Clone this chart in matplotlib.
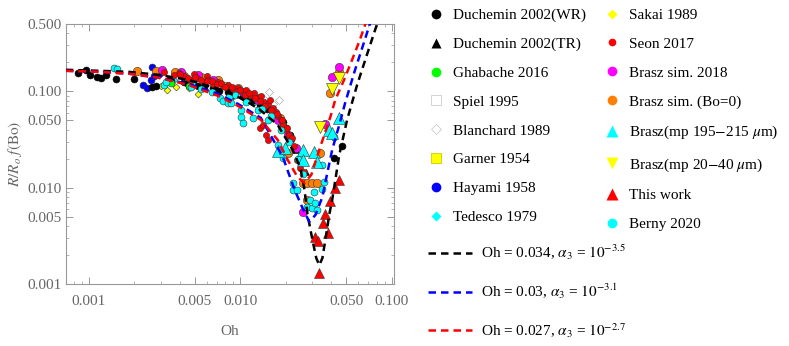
import matplotlib
matplotlib.use("Agg")
import matplotlib.pyplot as plt
from matplotlib.lines import Line2D
from matplotlib.ticker import FixedLocator, NullFormatter, LogLocator

plt.rcParams['font.family'] = ['Liberation Serif', 'DejaVu Serif']
plt.rcParams['mathtext.fontset'] = 'stix'

# Model curves
black_x = [0.000708, 0.00118, 0.00185, 0.00291, 0.00457, 0.00718, 0.0097, 0.0131, 0.0177, 0.0222,
           0.0250, 0.0266, 0.0278, 0.0300, 0.0318, 0.0333, 0.0349, 0.0365, 0.0388, 0.0405,
           0.0451, 0.0508, 0.0591, 0.0687, 0.0786, 0.0822]
black_y = [0.167, 0.163, 0.159, 0.148, 0.131, 0.106, 0.0872, 0.0671, 0.0448, 0.0247,
           0.0160, 0.00946, 0.00534, 0.00287, 0.00186, 0.00157, 0.00186, 0.00287, 0.00534, 0.00746,
           0.0219, 0.0505, 0.116, 0.240, 0.456, 0.56]
blue_x = [0.000708, 0.00118, 0.00185, 0.00291, 0.00457, 0.00718, 0.0097, 0.0137, 0.0191, 0.0229,
          0.0258, 0.0286, 0.0314, 0.0349, 0.0376, 0.0405, 0.0451, 0.0493, 0.0565, 0.0655, 0.0718, 0.074]
blue_y = [0.163, 0.159, 0.152, 0.138, 0.119, 0.0937, 0.0738, 0.0529, 0.0209, 0.00946,
          0.00616, 0.00442, 0.00521, 0.00801, 0.0142, 0.0247, 0.0448, 0.0756, 0.155, 0.318, 0.500, 0.58]
red_x = [0.000708, 0.00118, 0.00185, 0.00291, 0.00457, 0.00718, 0.0097, 0.0137, 0.0177, 0.0206,
         0.0239, 0.0266, 0.0295, 0.0333, 0.0394, 0.0424, 0.0485, 0.0548, 0.0617, 0.0671, 0.069]
red_y = [0.163, 0.159, 0.152, 0.138, 0.116, 0.0893, 0.0704, 0.0505, 0.0313, 0.0194,
         0.0129, 0.0112, 0.0136, 0.0247, 0.0542, 0.0812, 0.131, 0.212, 0.342, 0.500, 0.56]

# Experimental / simulation data
duchemin_wr_x = [0.000847, 0.000956, 0.00102, 0.00113, 0.0012, 0.00131, 0.00152, 0.002, 0.00262, 0.00278,
                 0.00338, 0.00424, 0.00531, 0.00665, 0.00835, 0.0105, 0.0122, 0.0141, 0.0164, 0.0191,
                 0.0212, 0.0418, 0.0471, 0.0035, 0.0045, 0.0058, 0.0072, 0.009, 0.011, 0.0135,
                 0.015, 0.018, 0.020]
duchemin_wr_y = [0.155, 0.167, 0.148, 0.141, 0.138, 0.148, 0.134, 0.134, 0.111, 0.113,
                 0.131, 0.125, 0.113, 0.108, 0.0983, 0.0893, 0.0812, 0.0721, 0.061, 0.0481,
                 0.0353, 0.0204, 0.0272, 0.128, 0.120, 0.110, 0.101, 0.092, 0.083, 0.072,
                 0.066, 0.052, 0.042]
duchemin_tr_x = [0.0232, 0.0250, 0.0270]
duchemin_tr_y = [0.0247, 0.0194, 0.0146]
ghabache_x = [0.00348, 0.00457, 0.0166, 0.0191]
ghabache_y = [0.122, 0.113, 0.0596, 0.0448]
spiel_x = [0.0113, 0.0127]
spiel_y = [0.0812, 0.0738]
blanchard_x = [0.0154, 0.0143, 0.0180, 0.0166]
blanchard_y = [0.0983, 0.0832, 0.0812, 0.0738]
garner_x = [0.00809, 0.00874]
garner_y = [0.116, 0.108]
hayami_x = [0.00229, 0.00243, 0.00258, 0.0027, 0.00262, 0.00291]
hayami_y = [0.116, 0.108, 0.131, 0.144, 0.179, 0.152]
tedesco_x = [0.00365, 0.00494, 0.00665, 0.009, 0.0122]
tedesco_y = [0.131, 0.116, 0.103, 0.0893, 0.0756]
sakai_x = [0.003, 0.00328, 0.00376, 0.00457, 0.00531, 0.00665, 0.00809]
sakai_y = [0.113, 0.103, 0.111, 0.108, 0.0937, 0.103, 0.111]
seon_x = [0.00314, 0.00393, 0.00494, 0.006, 0.00365, 0.00424, 0.00471, 0.00517, 0.00574, 0.00618,
          0.00665, 0.00718, 0.00773, 0.00835, 0.009, 0.0097, 0.0105, 0.0109, 0.0117, 0.0123,
          0.0131, 0.0137, 0.0143, 0.0152, 0.0157, 0.0164, 0.0172, 0.0177, 0.0186, 0.0191,
          0.02, 0.0209, 0.0215, 0.0225, 0.0135, 0.0141, 0.0148, 0.0152, 0.0239, 0.025, 0.0262,
          0.0040, 0.0045, 0.0050, 0.0055, 0.0060, 0.0065, 0.0070, 0.0075, 0.0080, 0.0088,
          0.0095, 0.0100, 0.0108, 0.0115, 0.0125, 0.0135, 0.0145, 0.016, 0.0175, 0.019,
          0.0205, 0.022]
seon_y = [0.159, 0.155, 0.152, 0.144, 0.148, 0.144, 0.131, 0.138, 0.125, 0.131,
          0.119, 0.125, 0.113, 0.116, 0.106, 0.108, 0.0983, 0.103, 0.0915, 0.096,
          0.0852, 0.0893, 0.0774, 0.0738, 0.0812, 0.0671, 0.061, 0.0555, 0.0505, 0.0448,
          0.0397, 0.0353, 0.0313, 0.0272, 0.0417, 0.0448, 0.0353, 0.0313, 0.0194, 0.016, 0.0146,
          0.150, 0.138, 0.142, 0.130, 0.127, 0.128, 0.118, 0.121, 0.110, 0.112,
          0.100, 0.104, 0.092, 0.095, 0.086, 0.080, 0.071, 0.064, 0.058, 0.050,
          0.042, 0.033]
brasz_sim_x = [0.00305, 0.00405, 0.00531, 0.00665, 0.0105, 0.0131, 0.0177, 0.0206, 0.0232, 0.0258,
               0.0365, 0.0405, 0.0451]
brasz_sim_y = [0.167, 0.159, 0.148, 0.131, 0.0983, 0.0812, 0.0505, 0.0353, 0.0259, 0.0056,
               0.0459, 0.141, 0.179]
brasz_bo0_x = [0.00209, 0.00278, 0.0037, 0.00424, 0.00556, 0.00718, 0.0097, 0.0131, 0.0183, 0.0206,
               0.0258, 0.0278, 0.03, 0.0323, 0.0338, 0.0278, 0.0394, 0.0451]
brasz_bo0_y = [0.163, 0.163, 0.159, 0.144, 0.141, 0.131, 0.108, 0.0852, 0.0529, 0.023,
               0.0112, 0.0112, 0.0112, 0.0112, 0.023, 0.00746, 0.096, 0.159]
brasz_mp195_x = [0.0177, 0.0197, 0.0258, 0.0309, 0.0258, 0.0323, 0.0388, 0.0405, 0.0451]
brasz_mp195_y = [0.0241, 0.0259, 0.0247, 0.0235, 0.0194, 0.0185, 0.0397, 0.037, 0.0529]
brasz_mp20_x = [0.0451, 0.0405, 0.0338]
brasz_mp20_y = [0.138, 0.106, 0.0427]
this_work_x = [0.0451, 0.0424, 0.0394, 0.0365, 0.0354, 0.0382, 0.0314, 0.0328, 0.0333]
this_work_y = [0.012, 0.0099, 0.00728, 0.00534, 0.00431, 0.00339, 0.00307, 0.0028, 0.0013]
berny_x = [0.00148, 0.00155, 0.00314, 0.00323, 0.00471, 0.0074, 0.00773, 0.00835, 0.00874, 0.00928,
           0.0102, 0.0102, 0.0105, 0.0122, 0.0191, 0.0222, 0.0222, 0.0239, 0.0278, 0.029,
           0.03, 0.0314, 0.0323, 0.0349, 0.0349, 0.0359, 0.0309, 0.0177, 0.0152, 0.0131, 0.0418,
           0.0055, 0.0065, 0.0085, 0.011, 0.014, 0.016, 0.0185, 0.021, 0.024, 0.026]
berny_y = [0.175, 0.171, 0.116, 0.125, 0.111, 0.0852, 0.0793, 0.0756, 0.0756, 0.0915,
           0.064, 0.0542, 0.047, 0.0529, 0.0204, 0.0112, 0.00946, 0.00946, 0.00631, 0.00746,
           0.00616, 0.00694, 0.00587, 0.0097, 0.0172, 0.0115, 0.00902, 0.0278, 0.0505, 0.064, 0.0336,
           0.105, 0.098, 0.088, 0.078, 0.065, 0.056, 0.040, 0.030, 0.020, 0.014]

tick_vals = [0.001, 0.005, 0.010, 0.050, 0.100, 0.500]
tick_labels = ['0.001', '0.005', '0.010', '0.050', '0.100', '0.500']

grey = '#666666'
edge = '#333333'

fig = plt.figure(figsize=(7.89, 3.46), dpi=100)
ax = fig.add_axes([0.0837, 0.179, 0.416, 0.752])

# (x, y, marker, face, edge, size)
series = [
    (spiel_x, spiel_y, 's', 'white', '#aaaaaa', 5),
    (blanchard_x, blanchard_y, 'D', 'white', '#999999', 4),
    (garner_x, garner_y, 's', '#ffff00', edge, 5),
    (hayami_x, hayami_y, 'o', '#0000ff', edge, 5),
    (tedesco_x, tedesco_y, 'D', '#00ffff', edge, 3.5),
    (sakai_x, sakai_y, 'D', '#ffff00', edge, 3.5),
    (duchemin_wr_x, duchemin_wr_y, 'o', 'black', 'black', 5),
    (duchemin_tr_x, duchemin_tr_y, '^', 'black', 'black', 5),
    (ghabache_x, ghabache_y, 'o', '#00ff00', edge, 5),
    (brasz_bo0_x, brasz_bo0_y, 'o', '#ff8000', edge, 6),
    (brasz_sim_x, brasz_sim_y, 'o', '#ff00ff', edge, 6),
    (seon_x, seon_y, 'o', '#ff0000', edge, 4.5),
    (berny_x, berny_y, 'o', '#00ffff', edge, 5),
    (brasz_mp195_x, brasz_mp195_y, '^', '#00ffff', edge, 8),
    (brasz_mp20_x, brasz_mp20_y, 'v', '#ffff00', edge, 8),
    (this_work_x, this_work_y, '^', '#ff0000', edge, 7),
]
for sx, sy, m, fc, ec, ms in series:
    ax.plot(sx, sy, linestyle='none', marker=m, markerfacecolor=fc,
            markeredgecolor=ec, markeredgewidth=0.4, markersize=ms, zorder=2)

ax.plot(black_x, black_y, color='black', lw=1.8, dashes=(3, 2), zorder=4)
ax.plot(blue_x, blue_y, color='#0000ff', lw=1.8, dashes=(3, 2), zorder=4)
ax.plot(red_x, red_y, color='#ff0000', lw=1.8, dashes=(3, 2), zorder=4)

ax.set_xscale('log')
ax.set_yscale('log')
ax.set_xlim(0.00071, 0.104)
ax.set_ylim(0.001, 0.5)
ax.xaxis.set_major_locator(FixedLocator(tick_vals[:-1]))
ax.set_xticklabels(tick_labels[:-1])
ax.yaxis.set_major_locator(FixedLocator(tick_vals))
ax.set_yticklabels(tick_labels)
for axis in (ax.xaxis, ax.yaxis):
    axis.set_minor_locator(LogLocator(base=10, subs=range(1, 10)))
    axis.set_minor_formatter(NullFormatter())
ax.tick_params(which='both', direction='in', top=True, right=True, colors='#999999',
               labelcolor=grey, labelsize=11)
ax.tick_params(which='major', length=5, width=0.7)
ax.tick_params(which='minor', length=2.5, width=0.5)
ax.tick_params(axis='x', which='major', pad=8)
for s in ax.spines.values():
    s.set_color('#999999')
    s.set_linewidth(0.8)

ax.set_xlabel('Oh', fontsize=11, color=grey, labelpad=12)
ax.set_ylabel(r'$R/R_o\ f(\mathrm{Bo})$', fontsize=11, color=grey, labelpad=2)

# Legend for data sets
def h(m, fc, ec='none', ms=7):
    return Line2D([], [], linestyle='none', marker=m, markerfacecolor=fc,
                  markeredgecolor=ec, markersize=ms, markeredgewidth=0.6)

handles = [
    h('o', 'black'), h('^', 'black'), h('o', '#00ff00'), h('s', 'white', '#cccccc'),
    h('D', 'white', '#cccccc', 5.5), h('s', '#ffff00', '#cccc00'), h('o', '#0000ff'), h('D', '#00ffff', ms=5.5),
    h('D', '#ffff00', ms=5.5), h('o', '#ff0000', ms=5.5), h('o', '#ff00ff'), h('o', '#ff8000'),
    h('^', '#00ffff', ms=9), h('v', '#ffff00', ms=9), h('^', '#ff0000', ms=9), h('o', '#00ffff'),
]
labels = [
    'Duchemin 2002(WR)', 'Duchemin 2002(TR)', 'Ghabache 2016', 'Spiel 1995',
    'Blanchard 1989', 'Garner 1954', 'Hayami 1958', 'Tedesco 1979',
    'Sakai 1989', 'Seon 2017', 'Brasz sim. 2018', 'Brasz sim. (Bo=0)',
    r'Brasz(mp 195$-$215 $\mu$m)', r'Brasz(mp 20$-$40 $\mu$m)', 'This work', 'Berny 2020',
]
fig.legend(handles, labels, ncol=2, loc='upper left', bbox_to_anchor=(0.543, 0.976),
           frameon=False, fontsize=11, handlelength=1.0, handletextpad=0.6,
           labelspacing=0.99, columnspacing=1.2, borderpad=0, borderaxespad=0)

line_handles = [
    Line2D([], [], color='black', lw=1.8, dashes=(3, 2)),
    Line2D([], [], color='#0000ff', lw=1.8, dashes=(3, 2)),
    Line2D([], [], color='#ff0000', lw=1.8, dashes=(3, 2)),
]
line_labels = [
    r'Oh = 0.034, $\alpha_3$ = $10^{-3.5}$',
    r'Oh = 0.03, $\alpha_3$ = $10^{-3.1}$',
    r'Oh = 0.027, $\alpha_3$ = $10^{-2.7}$',
]
fig.legend(line_handles, line_labels, loc='upper left', bbox_to_anchor=(0.542, 0.298),
           frameon=False, fontsize=11, handlelength=2.9, handletextpad=0.6,
           labelspacing=1.28, borderpad=0, borderaxespad=0)

fig.savefig('out.png', dpi=100)
